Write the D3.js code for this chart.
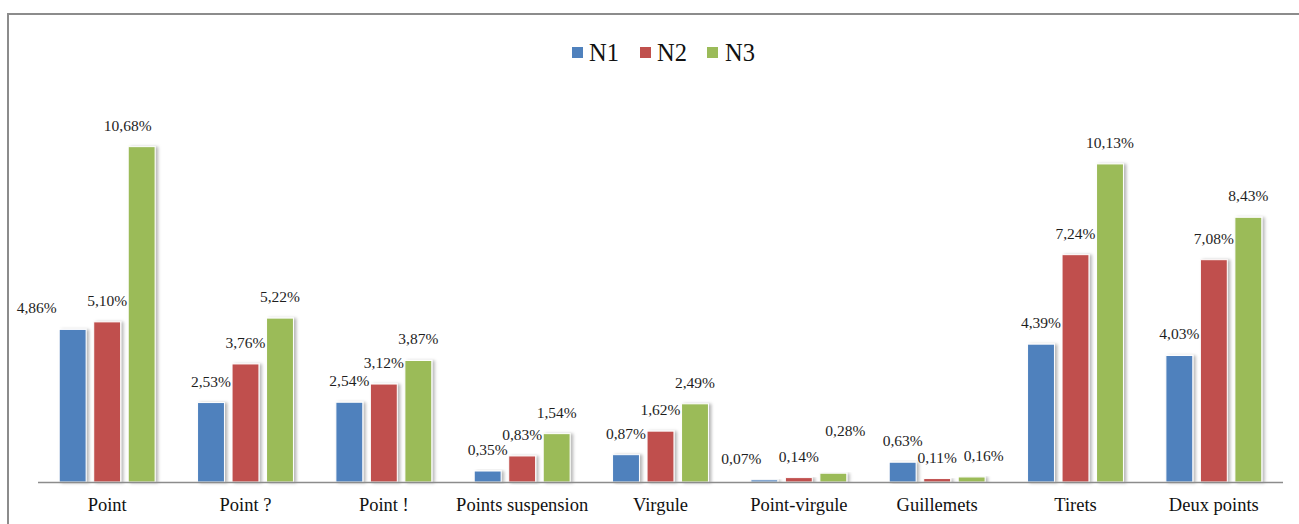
<!DOCTYPE html>
<html>
<head>
<meta charset="utf-8">
<script src="https://cdn.jsdelivr.net/npm/d3@7"></script>
<style>
  html, body { margin: 0; padding: 0; background: #ffffff; }
  svg { display: block; }
</style>
</head>
<body>
<svg id="chart" width="1299" height="524"></svg>
<script>
// Punctuation usage by level (percent)
const categories = ["Point", "Point ?", "Point !", "Points suspension", "Virgule",
                    "Point-virgule", "Guillemets", "Tirets", "Deux points"];
const seriesNames = ["N1", "N2", "N3"];
const n1 = [4.86, 2.53, 2.54, 0.35, 0.87, 0.07, 0.63, 4.39, 4.03];
const n2 = [5.10, 3.76, 3.12, 0.83, 1.62, 0.14, 0.11, 7.24, 7.08];
const n3 = [10.68, 5.22, 3.87, 1.54, 2.49, 0.28, 0.16, 10.13, 8.43];
const seriesValues = [n1, n2, n3];
const colors = ["#4F81BD", "#C0504D", "#9BBB59"];

const FONT = "Liberation Serif";

// Hand-placed labels that would otherwise collide: "category-series" -> [dx, dy]
const labelNudge = {
  "0-0": [-36, 0],
  "0-2": [-14, 0],
  "5-0": [-23, 0],
  "5-2": [12, -21],
  "6-2": [12, 0]
};

const svg = d3.select("#chart");

// Outer frame
svg.append("rect")
  .attr("x", 8).attr("y", 14)
  .attr("width", 1400).attr("height", 600)
  .attr("fill", "none").attr("stroke", "#8c8c8c").attr("stroke-width", 2);

// Soft drop shadow for bars
const defs = svg.append("defs");
const f = defs.append("filter").attr("id", "shadow")
  .attr("x", "-30%").attr("y", "-10%").attr("width", "160%").attr("height", "120%");
f.append("feDropShadow")
  .attr("dx", 2.5).attr("dy", 0.5).attr("stdDeviation", 1.5)
  .attr("flood-color", "#000").attr("flood-opacity", 0.28);

const baseY = 482;
const x0 = d3.scaleBand().domain(categories).range([38, 1283]).paddingInner(0).paddingOuter(0);
const x1 = d3.scaleBand().domain(seriesNames).range([0, x0.bandwidth()])
  .paddingInner(0.22).paddingOuter(0.615);
const y = d3.scaleLinear().domain([0, 12]).range([baseY, baseY - 12 * 31.4]);

const fmt = v => d3.format(".2f")(v).replace(".", ",") + "%";

const rows = [];
categories.forEach((c, i) => {
  seriesNames.forEach((s, j) => {
    rows.push({ cat: c, ser: s, i, j, v: seriesValues[j][i] });
  });
});

// Bars
svg.append("g").selectAll("rect")
  .data(rows)
  .join("rect")
  .attr("x", d => x0(d.cat) + x1(d.ser))
  .attr("y", d => y(d.v))
  .attr("width", x1.bandwidth())
  .attr("height", d => y(0) - y(d.v))
  .attr("fill", d => colors[d.j])
  .attr("stroke", "#ffffff")
  .attr("stroke-width", 1)
  .attr("filter", "url(#shadow)");

// Category axis line
svg.append("line")
  .attr("x1", 38).attr("x2", 1283)
  .attr("y1", baseY + 0.5).attr("y2", baseY + 0.5)
  .attr("stroke", "#8c8c8c").attr("stroke-width", 1.6);

// Category labels
const xAxis = d3.axisBottom(x0).tickSize(0).tickPadding(0);
const gx = svg.append("g").attr("transform", `translate(0,${baseY})`).call(xAxis);
gx.attr("font-family", null).attr("font-size", null);
gx.select(".domain").remove();
gx.selectAll("text")
  .attr("y", 29).attr("dy", 0)
  .style("font-family", FONT)
  .style("font-size", "18.5px")
  .attr("fill", "#111");

// Value labels
svg.append("g").selectAll("text")
  .data(rows)
  .join("text")
  .attr("x", d => x0(d.cat) + x1(d.ser) + x1.bandwidth() / 2 + (labelNudge[d.i + "-" + d.j] || [0, 0])[0])
  .attr("y", d => y(d.v) - 16 + (labelNudge[d.i + "-" + d.j] || [0, 0])[1])
  .attr("text-anchor", "middle")
  .style("font-family", FONT)
  .style("font-size", "15.5px")
  .attr("fill", "#1e1e1e")
  .text(d => fmt(d.v));

// Legend
const legendItems = [
  { name: "N1", sx: 572, tx: 589 },
  { name: "N2", sx: 640, tx: 657 },
  { name: "N3", sx: 707, tx: 725 }
];
const lg = svg.append("g");
legendItems.forEach((it, j) => {
  lg.append("rect").attr("x", it.sx).attr("y", 47).attr("width", 11).attr("height", 11)
    .attr("fill", colors[j]);
  lg.append("text").attr("x", it.tx).attr("y", 61)
    .style("font-family", FONT)
    .style("font-size", "24.5px")
    .attr("fill", "#111").text(it.name);
});
</script>
</body>
</html>
